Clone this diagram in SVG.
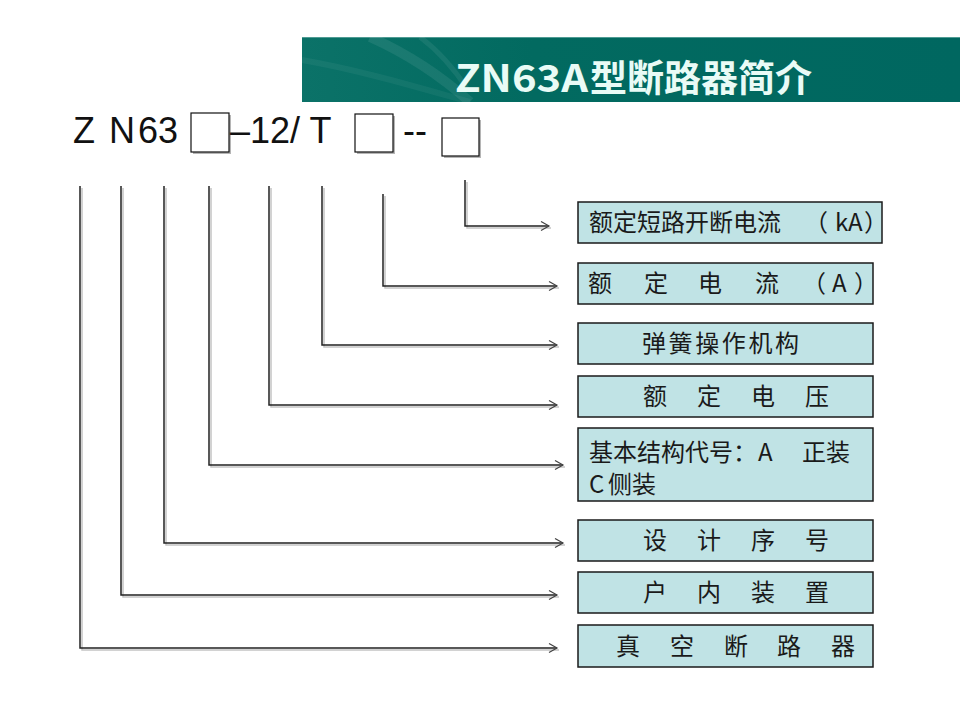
<svg xmlns="http://www.w3.org/2000/svg" width="960" height="720" viewBox="0 0 960 720">
  <defs>
    <marker id="arr" markerUnits="userSpaceOnUse" markerWidth="12" markerHeight="12" refX="9" refY="5" orient="auto">
      <path d="M1,0.5 L9,5 L1,9.5" fill="none" stroke="#444" stroke-width="1.2"/>
    </marker>
    <linearGradient id="bannerGrad" x1="0" y1="0" x2="1" y2="0">
      <stop offset="0" stop-color="#0b7268"/>
      <stop offset="0.35" stop-color="#026a60"/>
      <stop offset="1" stop-color="#006760"/>
    </linearGradient>
  </defs>
  <style>
    .lbl { font-family: "Noto Sans CJK SC", "Noto Sans", sans-serif; font-size: 24px; fill: #1a1a1a; }
    .box { fill: #c0e3e5; stroke: #1a1a1a; stroke-width: 1.5; }
    .model { font-family: "Liberation Sans", Arial, sans-serif; font-size: 36px; fill: #111; }
    .sq { fill: #ffffff; stroke: #111; stroke-width: 1.2; }
    .sqsh { fill: #b5b5b5; }
    .ln { fill: none; stroke: #222; stroke-width: 1.5; }
    .lnsh { fill: none; stroke: #c4c4c4; stroke-width: 1.5; }
  </style>
  <rect width="960" height="720" fill="#ffffff"/>

  <!-- title banner -->
  <g id="title">
    <rect x="302" y="37" width="658" height="65" fill="url(#bannerGrad)"/>
    <line x1="302" y1="37.5" x2="960" y2="37.5" stroke="#4f9b93" stroke-width="1"/>
    <path d="M370,37 C410,55 440,75 470,102" fill="none" stroke="#ffffff" stroke-opacity="0.08" stroke-width="10"/>
    <path d="M420,37 C440,52 455,70 468,90" fill="none" stroke="#ffffff" stroke-opacity="0.07" stroke-width="5"/>
    <path d="M302,60 C360,70 420,88 470,102" fill="none" stroke="#ffffff" stroke-opacity="0.05" stroke-width="6"/>
    <text x="455" y="92" font-family="Noto Sans CJK SC, Noto Sans, sans-serif" font-size="38" font-weight="bold" fill="#e9fbf6" textLength="133" lengthAdjust="spacingAndGlyphs">ZN63A</text>
    <text x="590" y="92" font-family="Noto Sans CJK SC, sans-serif" font-size="37" font-weight="bold" fill="#e9fbf6" textLength="222" lengthAdjust="spacingAndGlyphs">型断路器简介</text>
  </g>

  <!-- model designation -->
  <g id="model">
    <text class="model" x="73" y="143">Z</text>
    <text class="model" x="109" y="143">N</text>
    <text class="model" x="138" y="143">63</text>
    <rect class="sqsh" x="193" y="115" width="38" height="39"/>
    <rect class="sq" x="191" y="113" width="38" height="39"/>
    <text class="model" x="230" y="143">–12/ T</text>
    <rect class="sqsh" x="357" y="116" width="38" height="38"/>
    <rect class="sq" x="355" y="114" width="38" height="38"/>
    <text class="model" x="403" y="143">--</text>
    <rect class="sqsh" x="444" y="120" width="37" height="38"/>
    <rect class="sq" x="442" y="118" width="37" height="38"/>
  </g>

  <!-- connectors -->
  <g id="connectors">
    <g transform="translate(2,2)">
      <path class="lnsh" d="M465,180 V226 H549"/>
      <path class="lnsh" d="M383,194 V286 H557"/>
      <path class="lnsh" d="M322,186 V345 H557"/>
      <path class="lnsh" d="M269,186 V405 H557"/>
      <path class="lnsh" d="M209,186 V465 H563"/>
      <path class="lnsh" d="M164,186 V543 H563"/>
      <path class="lnsh" d="M121,186 V595 H557"/>
      <path class="lnsh" d="M80,186 V648 H557"/>
    </g>
    <path class="ln" d="M465,180 V226 H549" marker-end="url(#arr)"/>
    <path class="ln" d="M383,194 V286 H557" marker-end="url(#arr)"/>
    <path class="ln" d="M322,186 V345 H557" marker-end="url(#arr)"/>
    <path class="ln" d="M269,186 V405 H557" marker-end="url(#arr)"/>
    <path class="ln" d="M209,186 V465 H563" marker-end="url(#arr)"/>
    <path class="ln" d="M164,186 V543 H563" marker-end="url(#arr)"/>
    <path class="ln" d="M121,186 V595 H557" marker-end="url(#arr)"/>
    <path class="ln" d="M80,186 V648 H557" marker-end="url(#arr)"/>
  </g>

  <g id="node-breaking-current">
    <rect class="box" x="578" y="202" width="304" height="41"/>
    <text class="lbl" y="231"><tspan x="589">额定短路开断电流</tspan><tspan x="804">（</tspan><tspan x="835">k</tspan><tspan x="848">A</tspan><tspan x="864">）</tspan></text>
  </g>
  <g id="node-rated-current">
    <rect class="box" x="578" y="263" width="295" height="41"/>
    <text class="lbl" y="292"><tspan x="588">额</tspan><tspan x="644">定</tspan><tspan x="698">电</tspan><tspan x="755">流</tspan><tspan x="802">（</tspan><tspan x="832">A</tspan><tspan x="854">）</tspan></text>
  </g>
  <g id="node-spring-mechanism">
    <rect class="box" x="578" y="323" width="295" height="41"/>
    <text class="lbl" x="642" y="352" letter-spacing="2.6">弹簧操作机构</text>
  </g>
  <g id="node-rated-voltage">
    <rect class="box" x="578" y="376" width="295" height="41"/>
    <text class="lbl" y="405"><tspan x="643">额</tspan><tspan x="697">定</tspan><tspan x="751">电</tspan><tspan x="805">压</tspan></text>
  </g>
  <g id="node-structure-code">
    <rect class="box" x="578" y="428" width="295" height="73"/>
    <text class="lbl" y="461"><tspan x="589">基本结构代号：</tspan><tspan x="758">A</tspan><tspan x="802">正装</tspan></text>
    <text class="lbl" y="493"><tspan x="589">C</tspan><tspan x="608">侧装</tspan></text>
  </g>
  <g id="node-design-number">
    <rect class="box" x="578" y="520" width="295" height="41"/>
    <text class="lbl" y="549"><tspan x="643">设</tspan><tspan x="697">计</tspan><tspan x="751">序</tspan><tspan x="805">号</tspan></text>
  </g>
  <g id="node-indoor">
    <rect class="box" x="578" y="572" width="295" height="41"/>
    <text class="lbl" y="601"><tspan x="643">户</tspan><tspan x="697">内</tspan><tspan x="751">装</tspan><tspan x="805">置</tspan></text>
  </g>
  <g id="node-vacuum-breaker">
    <rect class="box" x="578" y="625" width="295" height="42"/>
    <text class="lbl" y="655"><tspan x="616">真</tspan><tspan x="670">空</tspan><tspan x="724">断</tspan><tspan x="777">路</tspan><tspan x="831">器</tspan></text>
  </g>
</svg>
